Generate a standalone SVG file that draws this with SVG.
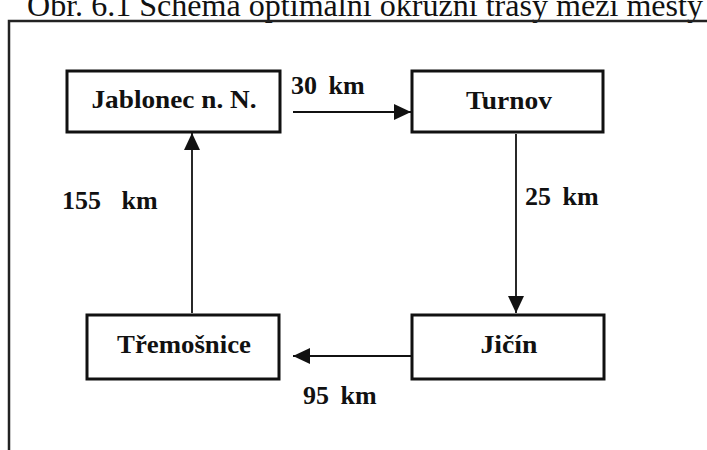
<svg xmlns="http://www.w3.org/2000/svg" width="707" height="450" viewBox="0 0 707 450">
<style>
.title{font-family:"Liberation Serif","Times New Roman",serif;font-size:32px;fill:#111}
.box{fill:#fff;stroke:#111;stroke-width:3}
.lbl{font-family:"Liberation Serif","Times New Roman",serif;font-size:25px;font-weight:bold;fill:#111;text-anchor:middle}
.dist{font-family:"Liberation Serif","Times New Roman",serif;font-size:26px;font-weight:bold;fill:#111}
.conn{stroke:#111;stroke-width:1.8;fill:none;marker-end:url(#ah)}
</style>
<defs>
<marker id="ah" viewBox="0 0 17 16" refX="17" refY="8" markerWidth="17" markerHeight="16" markerUnits="userSpaceOnUse" orient="auto">
<path d="M0,0 L17,8 L0,16 z" fill="#111"/>
</marker>
</defs>
<rect width="707" height="450" fill="#fff"/>
<text class="title" x="27" y="16" textLength="676" lengthAdjust="spacingAndGlyphs">Obr. 6.1 Schéma optimální okružní trasy mezi městy</text>
<rect x="9" y="21" width="720" height="460" fill="none" stroke="#222" stroke-width="2.5"/>
<g id="connectors">
<line class="conn" x1="293" y1="112" x2="411" y2="112"/>
<line class="conn" x1="516" y1="134" x2="516" y2="313"/>
<line class="conn" x1="411" y1="356" x2="293" y2="356"/>
<line class="conn" x1="192" y1="313" x2="192" y2="133"/>
<text class="dist" x="291" y="94" word-spacing="5">30 km</text>
<text class="dist" x="525" y="205" word-spacing="5">25 km</text>
<text class="dist" x="62" y="209" word-spacing="14">155 km</text>
<text class="dist" x="303" y="404" word-spacing="5">95 km</text>
</g>
<g id="jablonec">
<rect class="box" x="67" y="71" width="213" height="61"/>
<text class="lbl" x="174" y="108" textLength="165" lengthAdjust="spacingAndGlyphs">Jablonec n. N.</text>
</g>
<g id="turnov">
<rect class="box" x="412" y="71" width="191" height="61"/>
<text class="lbl" x="509" y="109" textLength="86" lengthAdjust="spacingAndGlyphs">Turnov</text>
</g>
<g id="jicin">
<rect class="box" x="412" y="315" width="192" height="64"/>
<text class="lbl" x="509" y="353" textLength="57" lengthAdjust="spacingAndGlyphs">Jičín</text>
</g>
<g id="tremosnice">
<rect class="box" x="87" y="315" width="192" height="64"/>
<text class="lbl" x="184" y="353" textLength="134" lengthAdjust="spacingAndGlyphs">Třemošnice</text>
</g>
</svg>
